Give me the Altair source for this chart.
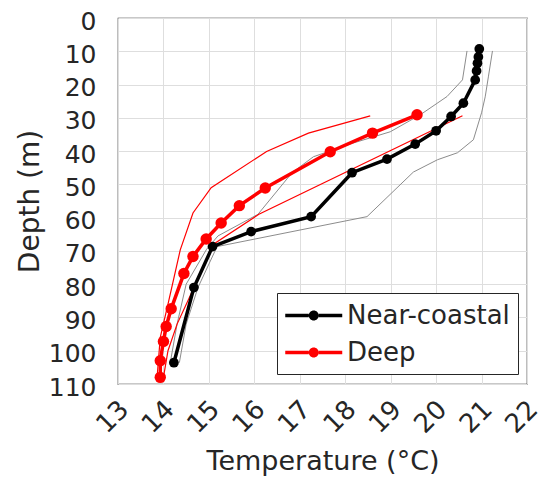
import altair as alt
import pandas as pd

# Near-coastal mean profile (with markers)
nc_temp = [20.95, 20.93, 20.91, 20.89, 20.86, 20.6, 20.33, 20.0, 19.54, 18.92, 18.15, 17.25, 15.93, 15.08, 14.67, 14.23]
nc_depth = [9.3, 11.7, 13.6, 15.9, 18.6, 25.6, 29.6, 33.9, 37.9, 42.4, 46.5, 59.7, 64.2, 68.7, 81.0, 103.6]

# Deep mean profile (with markers)
dp_temp = [19.58, 18.6, 17.67, 16.24, 15.67, 15.27, 14.94, 14.65, 14.45, 14.17, 14.06, 14.0, 13.93, 13.93]
dp_depth = [29.1, 34.6, 40.2, 51.1, 56.4, 61.6, 66.4, 71.7, 76.8, 87.4, 92.7, 97.2, 103.0, 108.0]

# Near-coastal envelope (gray thin lines)
ncl_temp = [20.68, 20.58, 20.24, 19.65, 18.99, 18.17, 17.3, 16.83, 16.08, 15.2, 14.95, 14.5, 14.3, 14.15]
ncl_depth = [9.9, 18.6, 23.6, 29.1, 34.2, 37.6, 41.7, 46.5, 59.0, 65.5, 69.5, 80.0, 92.0, 103.6]
ncr_temp = [21.24, 21.15, 21.08, 21.0, 20.82, 20.47, 20.03, 19.5, 18.48, 15.18, 14.76, 14.5, 14.35]
ncr_depth = [9.9, 17.7, 23.7, 28.5, 36.6, 40.5, 42.6, 46.3, 59.7, 68.7, 81.0, 92.0, 103.6]

# Deep envelope (red thin lines)
dl_temp = [18.55, 17.19, 16.27, 15.05, 14.65, 14.37, 14.1, 13.93, 13.86]
dl_depth = [29.4, 34.6, 40.1, 51.0, 58.6, 69.7, 86.0, 96.0, 108.0]
dr_temp = [20.58, 16.1, 15.1, 14.65, 14.3, 14.1, 14.0]
dr_depth = [29.4, 59.0, 68.0, 81.7, 92.0, 100.0, 108.0]

series_names = ["Near-coastal", "Deep"]
series_colors = ["#000000", "#ff0000"]
marker_sizes = {"Near-coastal": 95, "Deep": 130}

FONT = "DejaVu Sans"


def frame(temps, depths, name):
    return pd.DataFrame({"T": temps, "D": depths, "series": name, "ord": list(range(len(temps)))})


mean_df = pd.concat([frame(nc_temp, nc_depth, "Near-coastal"), frame(dp_temp, dp_depth, "Deep")])
mean_df["msize"] = mean_df["series"].map(marker_sizes)
gray_df = pd.concat([frame(ncl_temp, ncl_depth, "gl"), frame(ncr_temp, ncr_depth, "gr")])
redthin_df = pd.concat([frame(dl_temp, dl_depth, "rl"), frame(dr_temp, dr_depth, "rr")])

xscale = alt.Scale(domain=[13, 22], nice=False)
yscale = alt.Scale(domain=[0, 110], reverse=True, nice=False)
xaxis = alt.Axis(values=list(range(13, 23)), title="Temperature (°C)", labelAngle=315,
                 labelAlign="right", labelBaseline="middle", labelPadding=21, labelOffset=6,
                 labelFontSize=26, titleFontSize=27, titlePadding=11, ticks=False, domain=False,
                 gridColor="#dedede", labelColor="#262626", titleColor="#262626", titleFontWeight="normal")
yaxis = alt.Axis(values=list(range(0, 111, 10)), title="Depth (m)", labelFontSize=25, labelOffset=3,
                 titleFontSize=28, labelPadding=22, titlePadding=4, ticks=False, domain=False,
                 gridColor="#dedede", labelColor="#262626", titleColor="#262626", titleFontWeight="normal")

X = alt.X("T:Q", scale=xscale, axis=xaxis)
Y = alt.Y("D:Q", scale=yscale, axis=yaxis)

gray = alt.Chart(gray_df).mark_line(color="#8c8c8c", strokeWidth=1, clip=True).encode(
    x=X, y=Y, detail="series:N", order="ord:Q")
redthin = alt.Chart(redthin_df).mark_line(color="#ff0000", strokeWidth=1.2, clip=True).encode(
    x=X, y=Y, detail="series:N", order="ord:Q")

color_scale = alt.Scale(domain=series_names, range=series_colors)

# legend glyph: thick line with a dot in the middle, extending to the right of the symbol box
legend_path = ("M-1,-0.125 L0.65,-0.125 L0.65,0.125 L-1,0.125 Z "
               "M1.35,-0.125 L3,-0.125 L3,0.125 L1.35,0.125 Z "
               "M0.65,0 A0.35,0.35 0 1,0 1.35,0 A0.35,0.35 0 1,0 0.65,0 Z")

legend = alt.Legend(orient="none", legendX=159, legendY=275,
                    symbolType=legend_path, symbolSize=812,
                    symbolStrokeWidth=0, symbolOpacity=1,
                    labelFontSize=26, labelFont=FONT, labelColor="#262626",
                    labelOffset=33, rowPadding=9, padding=8,
                    strokeColor="#262626", fillColor="white",
                    labelLimit=400)

mean_lines = alt.Chart(mean_df).mark_line(strokeWidth=3.5, clip=True).encode(
    x=X, y=Y,
    color=alt.Color("series:N", scale=color_scale, title=None, legend=legend),
    order="ord:Q")

mean_points = alt.Chart(mean_df).mark_point(filled=True, opacity=1, shape="circle", clip=True).encode(
    x=X, y=Y,
    color=alt.Color("series:N", scale=color_scale, title=None, legend=legend),
    size=alt.Size("msize:Q", scale=None, legend=None))

chart = alt.layer(gray, redthin, mean_lines, mean_points).properties(
    width=409, height=366,
    autosize=alt.AutoSizeParams(type="none"),
    padding={"left": 110, "top": 10, "right": 15, "bottom": 94},
).configure(font=FONT).configure_view(stroke="#262626", strokeWidth=1.2)

chart.save("out.html", embed_options={"renderer": "svg", "actions": False})
